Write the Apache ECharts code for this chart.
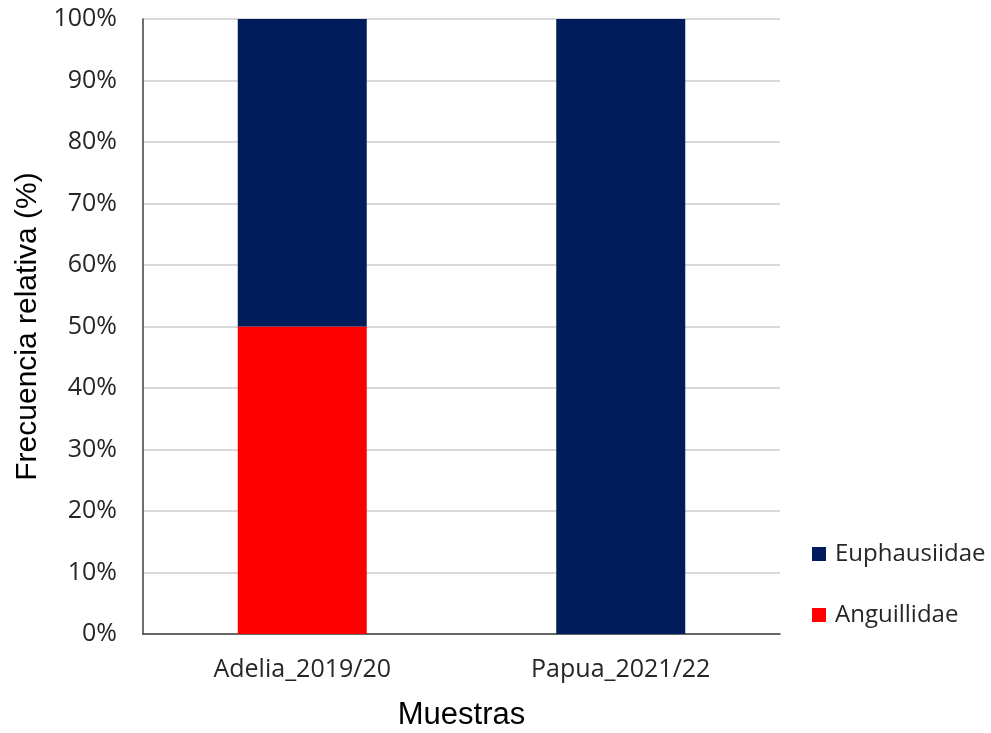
<!DOCTYPE html>
<html>
<head>
<meta charset="utf-8">
<script src="https://cdn.jsdelivr.net/npm/echarts@6/dist/echarts.min.js"></script>
<style>html,body{margin:0;padding:0;background:#fff}#c{width:991px;height:733px}</style>
</head>
<body>
<div id="c"></div>
<script>
const categories = ['Adelia_2019/20', 'Papua_2021/22'];
const anguillidae = [50, 0];
const euphausiidae = [50, 100];
const yTicks = [0, 10, 20, 30, 40, 50, 60, 70, 80, 90, 100];

const FONT = '"Open Sans", "Liberation Sans", sans-serif';
const TFONT = '"Liberation Sans", Arial, sans-serif';
const chart = echarts.init(document.getElementById('c'));
chart.setOption({
  animation: false,
  backgroundColor: '#ffffff',
  textStyle: { fontFamily: FONT },
  grid: { left: 143, right: 211, top: 19, bottom: 99, containLabel: false, outerBoundsMode: 'none' },
  legend: {
    orient: 'vertical',
    left: 807,
    top: 537,
    itemGap: 37,
    itemWidth: 14,
    itemHeight: 14,
    icon: 'rect',
    data: ['Euphausiidae', 'Anguillidae'],
    textStyle: { fontSize: 24, color: '#262626', fontFamily: FONT, padding: [0, 0, 0, 4] }
  },
  xAxis: {
    type: 'category',
    data: categories,
    name: 'Muestras',
    nameLocation: 'middle',
    nameGap: 66,
    nameTextStyle: { fontSize: 31, color: '#000', fontFamily: TFONT },
    axisLine: { lineStyle: { color: '#404040', width: 1.5 } },
    axisTick: { show: false },
    axisLabel: { fontSize: 25, color: '#262626', margin: 23, fontFamily: FONT }
  },
  yAxis: {
    type: 'value',
    min: 0,
    max: 100,
    interval: 10,
    name: 'Frecuencia relativa (%)',
    nameLocation: 'middle',
    nameGap: 99,
    nameTextStyle: { fontSize: 30, color: '#000', fontFamily: TFONT },
    axisLine: { show: true, lineStyle: { color: '#404040', width: 1.5 } },
    axisTick: { show: false },
    axisLabel: { fontSize: 25, color: '#262626', margin: 26, fontFamily: FONT,
      formatter: v => yTicks.includes(v) ? v + '%' : '' },
    splitLine: { lineStyle: { color: '#d9d9d9', width: 2 } }
  },
  series: [
    { name: 'Anguillidae', type: 'bar', stack: 'a', data: anguillidae, barWidth: '40.5%',
      itemStyle: { color: '#ff0000' } },
    { name: 'Euphausiidae', type: 'bar', stack: 'a', data: euphausiidae, barWidth: '40.5%',
      itemStyle: { color: '#001c5a' } }
  ]
});
</script>
</body>
</html>
